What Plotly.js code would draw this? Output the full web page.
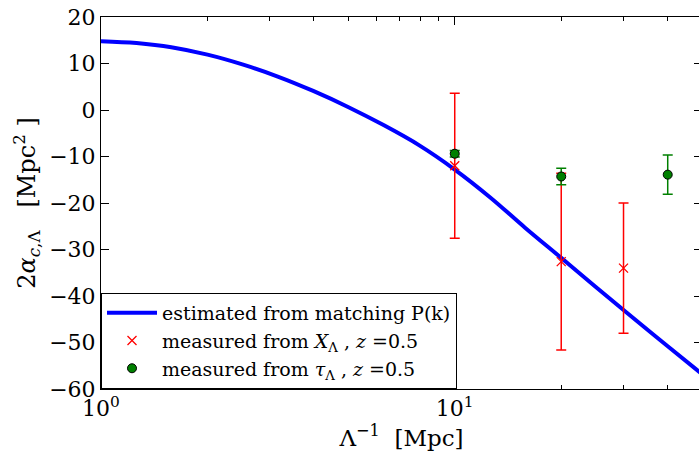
<!DOCTYPE html>
<html>
<head>
<meta charset="utf-8">
<script src="https://cdn.plot.ly/plotly-3.0.1.min.js"></script>
<style>
html,body{margin:0;padding:0;overflow:hidden;background:#fff;}
#chart{width:703px;height:456px;}
</style>
</head>
<body>
<div id="chart"></div>
<script>
// Model curve: estimated from matching P(k)
const curveX = [1, 1.26, 1.58, 2, 2.51, 3.16, 3.98, 5.01, 6.31, 7.94, 10, 12.6, 15.8, 20, 25, 30, 35, 40, 50];
const curveY = [14.8, 14.4, 13.5, 11.9, 9.8, 7.2, 4.1, 0.6, -3.3, -7.6, -12.8, -18.8, -25.3, -31.8, -38.0, -43.0, -47.2, -50.8, -56.8];

// Measured from X_Lambda
const xLamX = [10, 20, 30];
const xLamY = [-12.0, -32.6, -34.0];
const xLamErr = [15.6, 19.0, 14.0];

// Measured from tau_Lambda
const tauX = [10, 20, 40];
const tauY = [-9.4, -14.3, -13.9];
const tauErr = [0.7, 1.8, 4.2];

const xTickVals = [1, 10];
const xTickText = ['10<sup>0</sup>', '10<sup>1</sup>'];
const xMinorVals = [2, 3, 4, 5, 6, 7, 8, 9, 20, 30, 40];
const yTickVals = [20, 10, 0, -10, -20, -30, -40, -50, -60];

const font = 'DejaVu Serif, serif';
const NB = '\u00A0';

const traces = [
  {
    x: curveX, y: curveY, type: 'scatter', mode: 'lines',
    line: {color: '#0000ff', width: 4, shape: 'spline', smoothing: 1},
    name: 'estimated from matching P(k)'
  },
  {
    x: xLamX, y: xLamY, type: 'scatter', mode: 'markers',
    marker: {symbol: 'x-thin', size: 9, color: '#ff0000', line: {color: '#ff0000', width: 1.3}},
    error_y: {type: 'data', array: xLamErr, visible: true, color: '#ff0000', thickness: 1.5, width: 5},
    name: 'measured from <i>X</i><sub>Λ</sub> , <i>z</i> =0.5'
  },
  {
    x: tauX, y: tauY, type: 'scatter', mode: 'markers',
    marker: {symbol: 'circle', size: 9, color: '#008000', line: {color: '#000000', width: 1}},
    error_y: {type: 'data', array: tauErr, visible: true, color: '#008000', thickness: 1.5, width: 5},
    name: 'measured from <i>τ</i><sub>Λ</sub> , <i>z</i> =0.5'
  }
];

const layout = {
  width: 703, height: 456,
  margin: {l: 101, r: 1, t: 17, b: 67, pad: 0},
  paper_bgcolor: '#fff', plot_bgcolor: '#fff',
  font: {family: font, color: '#000', size: 22},
  showlegend: true,
  legend: {
    x: 0, y: 0, xanchor: 'left', yanchor: 'bottom',
    bgcolor: '#fff', bordercolor: '#000', borderwidth: 1,
    font: {family: font, size: 19, color: '#000'},
    tracegroupgap: 0, itemwidth: 50
  },
  xaxis: {
    type: 'log', range: [0, Math.log10(50)],
    tickmode: 'array', tickvals: xTickVals, ticktext: xTickText,
    ticks: 'inside', ticklen: 8, tickwidth: 1, tickcolor: '#000',
    minor: {tickmode: 'array', tickvals: xMinorVals, ticks: 'inside', ticklen: 4, tickwidth: 1, tickcolor: '#000'},
    showline: true, linecolor: '#000', linewidth: 1, mirror: 'ticks',
    showgrid: false, zeroline: false,
    tickfont: {family: font, size: 22},
    title: {text: 'Λ<sup>−1</sup>' + NB + NB + '[Mpc]', font: {family: font, size: 23}, standoff: 8}
  },
  yaxis: {
    range: [-60, 20],
    tickmode: 'array', tickvals: yTickVals,
    ticks: 'inside', ticklen: 8, tickwidth: 1, tickcolor: '#000',
    showline: true, linecolor: '#000', linewidth: 1, mirror: 'ticks',
    showgrid: false, zeroline: false,
    tickfont: {family: font, size: 22},
    title: {text: '2<i>α</i><sub><i>c</i>,Λ</sub>' + NB + NB + NB + '[Mpc<sup>2</sup>' + NB + ']', font: {family: font, size: 24}, standoff: 6}
  }
};

Plotly.newPlot('chart', traces, layout, {displayModeBar: false, staticPlot: true});
</script>
</body>
</html>
